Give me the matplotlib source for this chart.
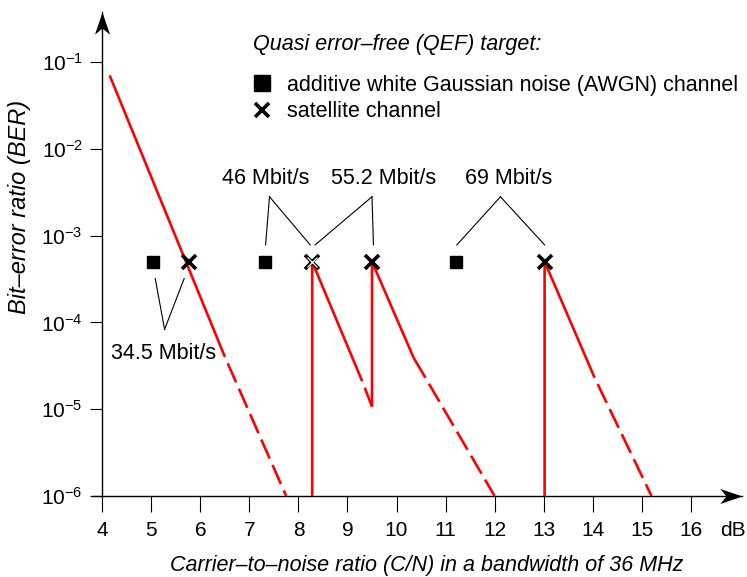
import numpy as np
import matplotlib
matplotlib.use('Agg')
import matplotlib.pyplot as plt
from matplotlib.path import Path
from matplotlib.ticker import NullLocator, FixedLocator

plt.rcParams['font.family'] = ['Liberation Sans', 'DejaVu Sans']
plt.rcParams['mathtext.fontset'] = 'custom'
plt.rcParams['mathtext.rm'] = 'Liberation Sans'
plt.rcParams['lines.scale_dashes'] = False

# QEF target points
QEF = 5e-4
awgn_cn = [5.04, 7.31, 11.22]
sat_cn = [5.76, 8.28, 9.5, 13.02]

# BER curves (solid part, dashed extrapolation)
c1_x = [4.15, 6.5]
c1_ber = [0.07, 4e-5]
c1_dash_x = [6.5, 7.75]
c1_dash_ber = [4e-5, 1e-6]

c2_x = [8.28, 8.28, 9.3]
c2_ber = [1e-6, 5e-4, 2.1e-5]
c2_dash_x = [9.3, 9.5]
c2_dash_ber = [2.1e-5, 1.07e-5]

c3_x = [9.5, 9.5, 10.35, 10.59]
c3_ber = [1.07e-5, 5e-4, 3.9e-5, 2.3e-5]
c3_dash_x = [10.59, 12.0]
c3_dash_ber = [2.3e-5, 1e-6]

c4_x = [13.02, 13.02, 14.04]
c4_ber = [1e-6, 5e-4, 2.3e-5]
c4_dash_x = [14.04, 15.2]
c4_dash_ber = [2.3e-5, 1e-6]

# data-rate labels and their leader lines
rate_labels = ['34.5 Mbit/s', '46 Mbit/s', '55.2 Mbit/s', '69 Mbit/s']
label_x = [5.24, 7.34, 9.73, 12.28]
label_ber = [4.4e-5, 4.5e-3, 4.5e-3, 4.5e-3]
apex_x = [5.27, 7.41, 9.50, 12.12]
apex_ber = [8.3e-5, 2.8e-3, 2.8e-3, 2.8e-3]
target_x = [[5.08, 5.67], [7.33, 8.24], [8.34, 9.53], [11.23, 13.02]]
target_ber = [3.2e-4, 7.8e-4, 7.8e-4, 7.8e-4]

xticks = list(range(4, 17))
yticks = [1e-6, 1e-5, 1e-4, 1e-3, 1e-2, 1e-1]

fs = 15.5

fig = plt.figure(figsize=(7.47, 5.77), dpi=100)
ax = fig.add_axes([0.1225, 0.1404, 0.8711, 0.8395])
ax.set_yscale('log')
ax.set_xlim(3.78, 17.05)
ax.set_ylim(1e-6, 10 ** -0.42)

for s in ['top', 'right']:
    ax.spines[s].set_visible(False)
ax.spines['left'].set_position(('data', 4))
ax.spines['left'].set_linewidth(1.0)
ax.spines['bottom'].set_linewidth(1.0)

ax.xaxis.set_major_locator(FixedLocator(xticks))
ax.set_xticklabels([str(t) for t in xticks])
ax.yaxis.set_major_locator(FixedLocator(yticks))
ax.yaxis.set_minor_locator(NullLocator())
ax.xaxis.set_minor_locator(NullLocator())
ax.tick_params(axis='x', direction='out', length=11.5, width=0.8, pad=6.5, labelsize=15)
ax.tick_params(axis='y', direction='out', length=8.5, width=0.8, pad=5.5, labelsize=15)
ax.annotate('dB', xy=(16.87, 0), xycoords=('data', 'axes fraction'),
            xytext=(0, -18), textcoords='offset points',
            fontsize=15, ha='center', va='top', annotation_clip=False)

# axis arrowheads
head = Path([(0, 0), (-1, 0.34), (-0.72, 0), (-1, -0.34), (0, 0)],
            [Path.MOVETO, Path.LINETO, Path.LINETO, Path.LINETO, Path.CLOSEPOLY])
head_up = Path([(0, 0), (0.34, -1), (0, -0.72), (-0.34, -1), (0, 0)],
               [Path.MOVETO, Path.LINETO, Path.LINETO, Path.LINETO, Path.CLOSEPOLY])
ax.plot([17.05], [1e-6], marker=head, ms=32, color='black', mew=0, clip_on=False, zorder=6)
ax.plot([4], [10 ** -0.42], marker=head_up, ms=32, color='black', mew=0, clip_on=False, zorder=6)

# red curves
red = '#ff0000'
lw = 1.9
dash = (15, (15, 5))
for xs, ys in [(c1_x, c1_ber), (c2_x, c2_ber), (c3_x, c3_ber), (c4_x, c4_ber)]:
    ax.plot(xs, ys, color=red, lw=lw, solid_capstyle='butt', clip_on=False, zorder=3)
for xs, ys in [(c1_dash_x, c1_dash_ber), (c2_dash_x, c2_dash_ber),
               (c3_dash_x, c3_dash_ber), (c4_dash_x, c4_dash_ber)]:
    ax.plot(xs, ys, color=red, lw=lw, linestyle=dash, dash_capstyle='butt', clip_on=False, zorder=3)

# leader lines and labels
for i in range(len(rate_labels)):
    for tx in target_x[i]:
        ax.plot([apex_x[i], tx], [apex_ber[i], target_ber[i]], color='black', lw=0.8, zorder=4)
    ax.text(label_x[i], label_ber[i], rate_labels[i], fontsize=fs, ha='center', va='center')

# QEF markers
ax.plot(awgn_cn, [QEF] * len(awgn_cn), linestyle='none', marker='s', ms=9,
        color='black', zorder=5)
ax.plot(sat_cn, [QEF] * len(sat_cn), linestyle='none', marker='x', ms=10,
        mew=2.6, color='black', zorder=5)
ax.plot(sat_cn[1], QEF, marker='x', ms=7.5, mew=0.9, color='white', zorder=6)

# legend
fig.text(253 / 747, 1 - 50 / 577, 'Quasi error\u2013free (QEF) target:', fontsize=fs,
         style='italic', ha='left', va='baseline')
fig.add_artist(plt.Line2D([261.5 / 747], [1 - 83 / 577], marker='s', ms=11,
                          color='black', transform=fig.transFigure))
fig.add_artist(plt.Line2D([261.5 / 747], [1 - 109.5 / 577], marker='x', ms=10,
                          mew=2.6, color='black', transform=fig.transFigure))
fig.text(287 / 747, 1 - 91 / 577, 'additive white Gaussian noise (AWGN) channel',
         fontsize=fs, ha='left', va='baseline')
fig.text(287 / 747, 1 - 117 / 577, 'satellite channel', fontsize=fs,
         ha='left', va='baseline')

# axis titles
fig.text(427 / 747, 1 - 565 / 577,
         'Carrier\u2013to\u2013noise ratio (C/N) in a bandwidth of 36 MHz',
         fontsize=fs, style='italic', ha='center', va='center')
fig.text(20 / 747, 1 - 207 / 577, 'Bit\u2013error ratio (BER)', fontsize=17,
         style='italic', rotation=90, ha='center', va='center')

fig.savefig('out.png', dpi=100)
